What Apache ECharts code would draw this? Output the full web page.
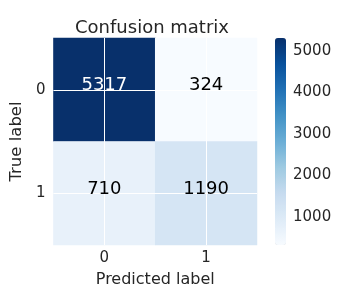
<!DOCTYPE html>
<html><head><meta charset="utf-8">
<script src="https://cdn.jsdelivr.net/npm/echarts@6/dist/echarts.min.js"></script>
<style>html,body{margin:0;padding:0;background:#fff;}#c{width:346px;height:297px;}</style>
</head><body><div id="c"></div>
<script>
const predictedLabels = ['0', '1'];
const trueLabels = ['0', '1'];
const row0 = [5317, 324];
const row1 = [710, 1190];
const colorbarTicks = [1000, 2000, 3000, 4000, 5000];
const matrix = [row0, row1];
const vmin = 324, vmax = 5317;

const blues = ['#f7fbff','#deebf7','#c6dbef','#9ecae1','#6baed6','#4292c6','#2171b5','#08519c','#08306b'];
const font = 'DejaVu Sans';
const txt = '#262626';
const thresh = vmax / 2;

const cells = [];
const annots = [];
matrix.forEach((row, i) => row.forEach((v, j) => {
  cells.push([j, i, v]);
  annots.push({value: [j, i, v], label: {color: v > thresh ? '#ffffff' : '#000000'}});
}));

const chart = echarts.init(document.getElementById('c'), null, {renderer: 'canvas'});
chart.setOption({
  animation: false,
  backgroundColor: '#fff',
  title: {
    text: 'Confusion matrix', left: 147, top: 14, textAlign: 'center',
    textStyle: {fontFamily: font, fontSize: 18, fontWeight: 'normal', color: txt}
  },
  grid: [
    {left: 49, top: 38, width: 208, height: 207},
    {left: 275, top: 38, width: 11, height: 207}
  ],
  xAxis: [
    {type: 'category', data: predictedLabels, gridIndex: 0,
     name: 'Predicted label', nameLocation: 'middle', nameGap: 27,
     nameTextStyle: {fontFamily: font, fontSize: 16, color: txt},
     axisLine: {show: false}, axisTick: {show: false}, splitLine: {show: false},
     axisLabel: {fontFamily: font, fontSize: 15, color: txt, margin: 6}},
    {type: 'value', gridIndex: 1, show: false}
  ],
  yAxis: [
    {type: 'category', data: trueLabels, gridIndex: 0, inverse: true,
     name: 'True label', nameLocation: 'middle', nameGap: 23, nameRotate: 90,
     nameTextStyle: {fontFamily: font, fontSize: 16.5, color: txt},
     axisLine: {show: false}, axisTick: {show: false}, splitLine: {show: false},
     axisLabel: {fontFamily: font, fontSize: 15, color: txt, margin: 8}},
    {type: 'value', gridIndex: 1, position: 'right', min: vmin, max: vmax,
     axisLine: {show: false}, axisTick: {show: false}, splitLine: {show: false},
     axisLabel: {customValues: colorbarTicks, formatter: v => String(v),
                 fontFamily: font, fontSize: 15, color: txt, margin: 7}}
  ],
  visualMap: {
    type: 'continuous', min: vmin, max: vmax, calculable: false, seriesIndex: 0,
    left: 275, top: 38, itemWidth: 11, itemHeight: 207, padding: 0,
    text: null, showLabel: false, orient: 'vertical',
    inRange: {color: blues}
  },
  series: [{
    type: 'heatmap', xAxisIndex: 0, yAxisIndex: 0, z: 1,
    data: cells,
    label: {show: false},
    itemStyle: {borderWidth: 0},
    emphasis: {disabled: true},
    markLine: {
      silent: true, symbol: 'none', label: {show: false}, z: 2,
      lineStyle: {color: '#fff', width: 1, type: 'solid'},
      data: [{xAxis: 0}, {xAxis: 1}, {yAxis: 0}, {yAxis: 1}]
    }
  }, {
    type: 'scatter', xAxisIndex: 0, yAxisIndex: 0, z: 10,
    symbolSize: 0, silent: true,
    itemStyle: {opacity: 1},
    data: annots,
    label: {
      show: true, position: 'inside', fontFamily: font, fontSize: 18, offset: [0, -4],
      fontWeight: 'normal', textBorderWidth: 0, textShadowBlur: 0, opacity: 1,
      formatter: p => String(p.value[2])
    }
  }]
});
</script></body></html>
